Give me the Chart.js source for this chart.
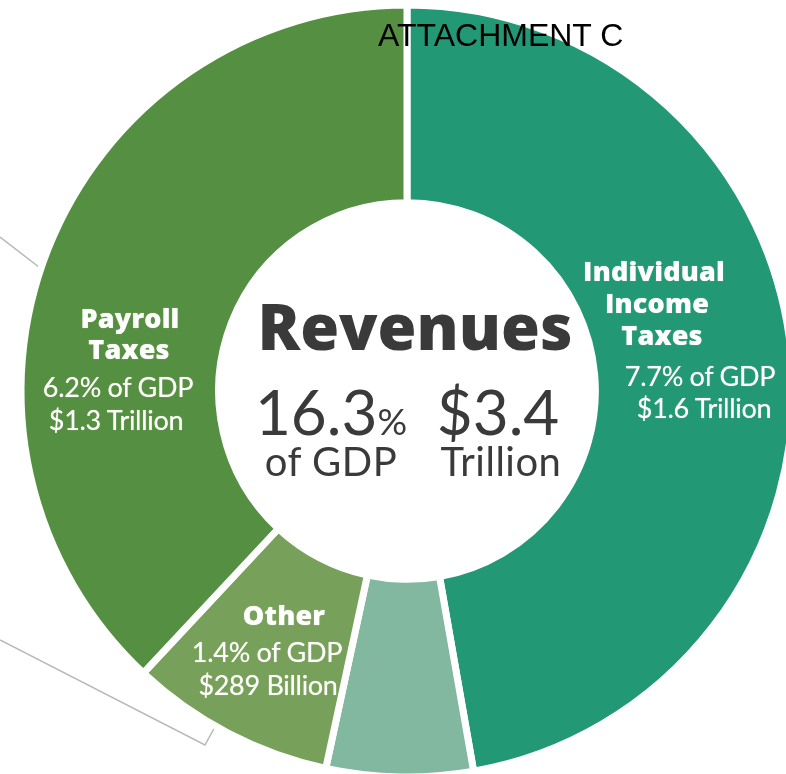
<!DOCTYPE html>
<html>
<head>
<meta charset="utf-8">
<script src="https://cdn.jsdelivr.net/npm/chart.js@4.4.1/dist/chart.umd.min.js"></script>
<style>
  html, body { margin:0; padding:0; background:#fff; overflow:hidden; }
  #wrap { position:relative; width:786px; height:774px; }
  #chartBox { position:absolute; left:0; top:0; width:786px; height:774px; }
  svg.leaders { position:absolute; left:0; top:0; }
  .t { position:absolute; white-space:nowrap; line-height:1; font-family:Lato, "Open Sans", sans-serif; }
  .lbl { color:#fff; text-shadow:0 0 1px rgba(255,250,220,0.6); }
  .b { font-family:"Open Sans", Lato, sans-serif; font-weight:800; font-size:27px; letter-spacing:0.2px; }
  .r { font-weight:400; font-size:27px; letter-spacing:-0.3px; }
  .c { color:#3a3a3a; }
</style>
</head>
<body>
<div id="wrap">
  <svg class="leaders" width="786" height="774">
    <polyline points="0,237 44,271" fill="none" stroke="#b8b8b8" stroke-width="1.5"/>
    <polyline points="0,640 205,745 217,723" fill="none" stroke="#b8b8b8" stroke-width="1.5"/>
  </svg>
  <div id="chartBox"><canvas id="c"></canvas></div>
</div>
<script>
// Data (share of GDP, %), clockwise from top
const categories = ["Individual Income Taxes", "Corporate Income Taxes", "Other", "Payroll Taxes"];
const shareOfGDP = [7.7, 1.0, 1.4, 6.2];
const dollarLabels = ["$1.6 Trillion", "", "$289 Billion", "$1.3 Trillion"];
const totalShare = "16.3";
const totalDollars = "$3.4";
const colors = ["#229874", "#82b7a0", "#77a05a", "#558f41"];

new Chart(document.getElementById('c'), {
  type: 'doughnut',
  data: {
    labels: categories,
    datasets: [{
      data: shareOfGDP,
      backgroundColor: colors,
      borderColor: '#ffffff',
      borderWidth: 7,
      hoverOffset: 0
    }]
  },
  options: {
    responsive: true,
    maintainAspectRatio: false,
    animation: false,
    radius: 386,
    cutout: '48.8%',
    layout: { padding: { left: 28, top: 8, right: 0, bottom: 0 } },
    plugins: { legend: { display: false }, tooltip: { enabled: false } }
  }
});

// Text overlay
function addText(txt, cls, x, baseline, size, align, extraStyle) {
  const d = document.createElement('div');
  d.className = 't ' + cls;
  d.textContent = txt;
  d.style.fontSize = size + 'px';
  d.style.top = (baseline - 0.887 * size) + 'px';
  if (align === 'center') { d.style.left = x + 'px'; d.style.transform = 'translateX(-50%)'; }
  else { d.style.left = x + 'px'; }
  if (extraStyle) d.style.cssText += extraStyle;
  document.getElementById('wrap').appendChild(d);
  return d;
}
// Attachment header
addText("ATTACHMENT C", "", 378, 47, 32, 'left', 'font-family:"Liberation Sans",Arial,sans-serif;color:#000;font-weight:400;');

// Payroll
addText("Payroll", "lbl b", 130, 328, 27, 'center');
addText("Taxes", "lbl b", 129, 359, 27, 'center');
addText(shareOfGDP[3].toFixed(1) + "% of GDP", "lbl r", 118, 397, 27, 'center');
addText(dollarLabels[3], "lbl r", 116, 430, 27, 'center');
// Individual
addText("Individual", "lbl b", 654, 281, 27, 'center');
addText("Income", "lbl b", 657, 313, 27, 'center');
addText("Taxes", "lbl b", 662, 345, 27, 'center');
addText(shareOfGDP[0].toFixed(1) + "% of GDP", "lbl r", 700, 386, 27, 'center');
addText(dollarLabels[0], "lbl r", 704, 418, 27, 'center');
// Other
addText("Other", "lbl b", 284, 625, 27, 'center');
addText(shareOfGDP[2].toFixed(1) + "% of GDP", "lbl r", 267, 662, 27, 'center');
addText(dollarLabels[2], "lbl r", 268, 695, 27, 'center');
// Center
addText("Revenues", "c", 415, 350, 63, 'center', 'font-family:"Open Sans",Lato,sans-serif;font-weight:800;letter-spacing:0px;');
const p = addText(totalShare, "c", 331, 435, 62, 'center', 'font-weight:400;');
p.innerHTML = totalShare + '<span style="font-size:37px">%</span>';
addText("of GDP", "c", 331, 476, 40, 'center', 'font-weight:400;letter-spacing:0.5px;');
addText(totalDollars, "c", 498, 435, 62, 'center', 'font-weight:400;');
addText("Trillion", "c", 501, 476, 40, 'center', 'font-weight:400;letter-spacing:0.5px;');
</script>
</body>
</html>
